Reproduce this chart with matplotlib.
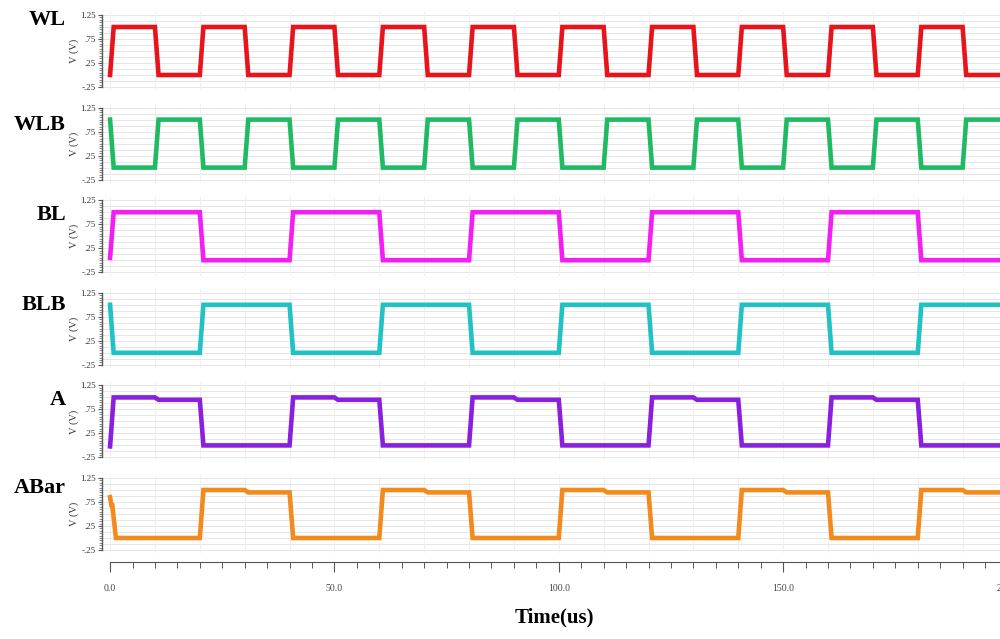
import matplotlib
matplotlib.use("Agg")
import matplotlib.pyplot as plt
import numpy as np

# signal names, colours and switching data (time in us)
names = ["WL", "WLB", "BL", "BLB", "A", "ABar"]
colors = ["#e8141c", "#1fbb62", "#f21ef2", "#20c2c4", "#8a1fe0", "#f28a1e"]

wl_start = [(0.0, 0.0)]
wl_edges = [0, 10, 20, 30, 40, 50, 60, 70, 80, 90, 100, 110, 120, 130, 140, 150, 160, 170, 180, 190]
wl_levels = [1, 0, 1, 0, 1, 0, 1, 0, 1, 0, 1, 0, 1, 0, 1, 0, 1, 0, 1, 0]

wlb_start = [(0.0, 1.0)]
wlb_edges = [0, 10, 20, 30, 40, 50, 60, 70, 80, 90, 100, 110, 120, 130, 140, 150, 160, 170, 180, 190]
wlb_levels = [0, 1, 0, 1, 0, 1, 0, 1, 0, 1, 0, 1, 0, 1, 0, 1, 0, 1, 0, 1]

bl_start = [(0.0, 0.05)]
bl_edges = [0, 20, 40, 60, 80, 100, 120, 140, 160, 180]
bl_levels = [1, 0, 1, 0, 1, 0, 1, 0, 1, 0]

blb_start = [(0.0, 1.0)]
blb_edges = [0, 20, 40, 60, 80, 100, 120, 140, 160, 180]
blb_levels = [0, 1, 0, 1, 0, 1, 0, 1, 0, 1]

a_start = [(0.0, -0.02)]
a_edges = [0, 10, 20, 40, 50, 60, 80, 90, 100, 120, 130, 140, 160, 170, 180]
a_levels = [1.0, 0.95, 0.0, 1.0, 0.95, 0.0, 1.0, 0.95, 0.0, 1.0, 0.95, 0.0, 1.0, 0.95, 0.0]

abar_start = [(0.0, 0.85), (0.3, 0.68)]
abar_edges = [0.5, 20, 30, 40, 60, 70, 80, 100, 110, 120, 140, 150, 160, 180, 190]
abar_levels = [0.0, 1.0, 0.95, 0.0, 1.0, 0.95, 0.0, 1.0, 0.95, 0.0, 1.0, 0.95, 0.0, 1.0, 0.95]

signals = [
    (wl_start, wl_edges, wl_levels),
    (wlb_start, wlb_edges, wlb_levels),
    (bl_start, bl_edges, bl_levels),
    (blb_start, blb_edges, blb_levels),
    (a_start, a_edges, a_levels),
    (abar_start, abar_edges, abar_levels),
]

x_ticks = [0, 50, 100, 150, 200]
x_ticklabels = ["0.0", "50.0", "100.0", "150.0", "200.0"]
y_ticks = [-0.25, 0.25, 0.75, 1.25]
y_ticklabels = ["-.25", ".25", ".75", "1.25"]

T_END = 200
RISE = 0.8


def build_wave(start, edges, levels):
    ts = [p[0] for p in start]
    vs = [p[1] for p in start]
    for e, lv in zip(edges, levels):
        if e > ts[-1]:
            ts.append(e)
            vs.append(vs[-1])
        ts.append(e + RISE)
        vs.append(lv)
    ts.append(T_END)
    vs.append(vs[-1])
    return ts, vs


fig = plt.figure(figsize=(10, 6.39), dpi=100)
W, H = 1000, 639

px_per_us = 4.487
x_left = -1.8
ax_left_px = 102
ax_width_px = (T_END - x_left) * px_per_us
ylo, yhi = -0.32, 1.32
px_per_v = 48.0

for i, (name, col, sig) in enumerate(zip(names, colors, signals)):
    top_tick_px = 15 + 92.6 * i          # pixel row of the 1.25 tick
    top_px = top_tick_px - (yhi - 1.25) * px_per_v
    h_px = (yhi - ylo) * px_per_v
    ax = fig.add_axes([ax_left_px / W, 1 - (top_px + h_px) / H,
                       ax_width_px / W, h_px / H])
    ts, vs = build_wave(*sig)
    ax.plot(ts, vs, color=col, lw=3.3, solid_joinstyle="miter", zorder=3)
    ax.set_xlim(x_left, T_END)
    ax.set_ylim(ylo, yhi)

    # faint grid
    for gy in np.arange(-0.25, 1.26, 0.125):
        ax.axhline(gy, color="#e6e6e6", lw=0.7, zorder=0)
    for gx in range(0, T_END + 1, 10):
        ax.axvline(gx, color="#eeeeee", lw=0.6, zorder=0)

    for s in ["top", "right"]:
        ax.spines[s].set_visible(False)
    ax.spines["left"].set_bounds(-0.25, 1.25)
    ax.spines["left"].set_color("#555555")
    ax.spines["left"].set_linewidth(1.0)
    ax.set_yticks(y_ticks)
    ax.set_yticklabels(y_ticklabels, fontsize=6.5, family="Liberation Serif", color="#333333")
    ax.set_yticks(np.arange(-0.25, 1.26, 0.05), minor=True)
    ax.tick_params(axis="y", which="major", length=3, width=0.8, pad=1.5, color="#555555")
    ax.tick_params(axis="y", which="minor", length=2, width=0.6, color="#777777")
    ax.set_ylabel("V (V)", fontsize=7.5, family="Liberation Serif", labelpad=1, color="#333333")

    if i == len(names) - 1:
        ax.spines["bottom"].set_position(("outward", 6.3))
        ax.spines["bottom"].set_bounds(0, T_END)
        ax.spines["bottom"].set_color("#555555")
        ax.set_xticks(x_ticks)
        ax.set_xticklabels(x_ticklabels, fontsize=7, family="Liberation Serif", color="#444444")
        ax.set_xticks(range(0, T_END + 1, 5), minor=True)
        ax.tick_params(axis="x", which="major", length=7, width=0.8, pad=9, color="#555555")
        ax.tick_params(axis="x", which="minor", length=4, width=0.7, color="#555555")
        ax.set_xlabel("Time(us)", fontsize=15, family="Liberation Serif",
                      fontweight="bold", labelpad=10)
    else:
        ax.spines["bottom"].set_visible(False)
        ax.set_xticks([])

    label_y = [20, 125, 215, 305, 400, 488][i]
    fig.text(0.066, 1 - label_y / H, name, ha="right", va="center",
             fontsize=16, family="Liberation Serif", fontweight="bold")

fig.savefig("out.png", dpi=100)
